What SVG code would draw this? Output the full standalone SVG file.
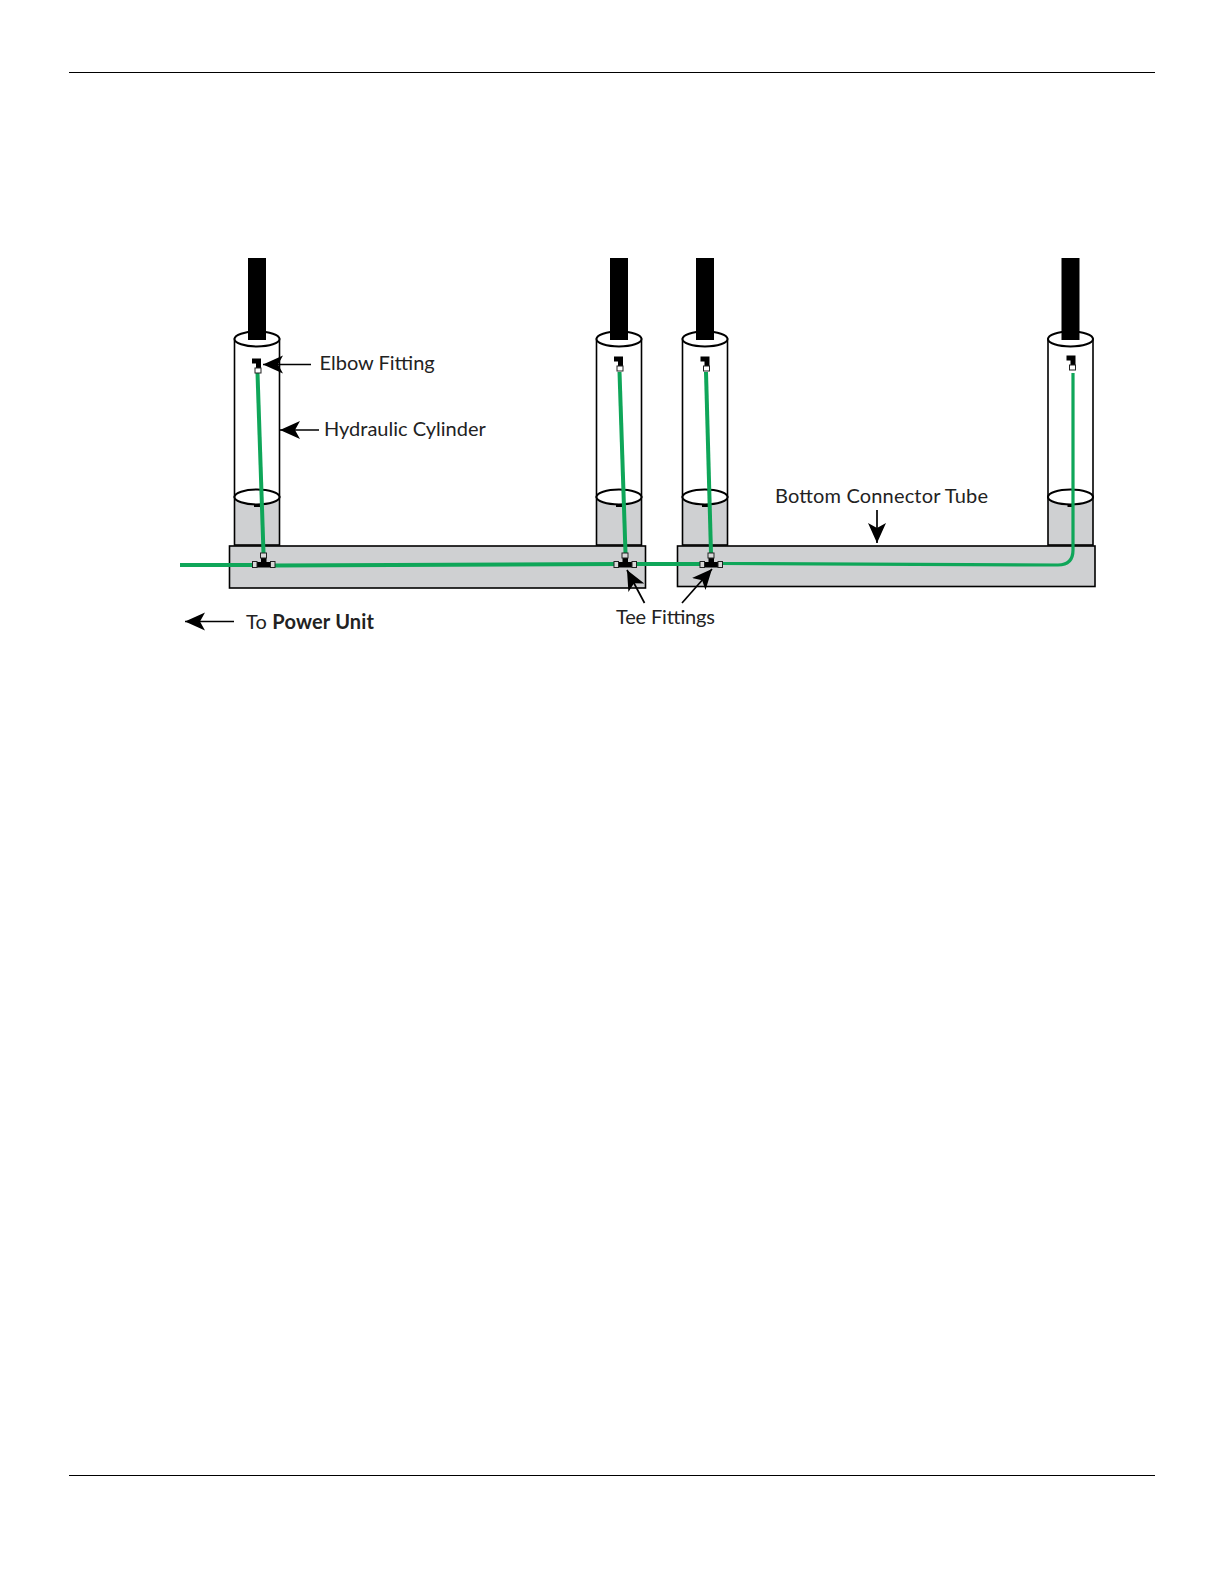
<svg xmlns="http://www.w3.org/2000/svg" width="1224" height="1584" viewBox="0 0 1224 1584">
<style>
.rule{stroke:#000;stroke-width:1;fill:none}
.wall{fill:none;stroke:#000;stroke-width:1.6}
.body{fill:#cfd0d2;stroke:#000;stroke-width:1.6}
.ring{fill:#fff;stroke:#000;stroke-width:2}
.hose{fill:none;stroke:#0fa659;stroke-width:4}
.lead{fill:none;stroke:#000;stroke-width:1.7;marker-end:url(#head)}
.ferrule{fill:#d8d8d8;stroke:#222;stroke-width:1}
text{font-family:"Lato","Open Sans","Liberation Sans",sans-serif;font-size:20px;fill:#222}
</style>
<defs>
<marker id="head" markerUnits="userSpaceOnUse" markerWidth="24" markerHeight="22" refX="20" refY="10" orient="auto">
<path d="M20,10 L0,1 L5,10 L0,19 Z" fill="#000"/>
</marker>
<g id="cyl">
<rect class="wall" x="0" y="0" width="45" height="158"/>
<rect class="body" x="0" y="158" width="45" height="48"/>
<ellipse class="ring" cx="22.5" cy="158" rx="22.5" ry="7.5"/>
<ellipse class="ring" cx="22.5" cy="0" rx="22.5" ry="7.5"/>
<rect x="19.5" y="165" width="6" height="3" fill="#000"/>
<rect x="13.5" y="-81" width="18" height="82" fill="#000"/>
</g>
<g id="elbow">
<path d="M0,0 H9 V10 H4 V5 H0 Z" fill="#000"/>
<rect x="3" y="9.5" width="6" height="5" fill="#fff" stroke="#222" stroke-width="1"/>
</g>
<g id="tee">
<rect x="4" y="9" width="14" height="5.5" fill="#000"/>
<rect x="8.5" y="4" width="5.5" height="6" fill="#000"/>
<rect class="ferrule" x="8" y="0" width="6" height="5"/>
<rect class="ferrule" x="0" y="8.5" width="4.5" height="6"/>
<rect class="ferrule" x="18" y="8.5" width="4.5" height="6"/>
</g>
</defs>
<g id="page-rules">
<line class="rule" x1="69" y1="72.5" x2="1155" y2="72.5"/>
<line class="rule" x1="69" y1="1475.5" x2="1155" y2="1475.5"/>
</g>
<g id="cylinder-1"><use href="#cyl" x="234.5" y="339"/></g>
<g id="cylinder-2"><use href="#cyl" x="596.5" y="339"/></g>
<g id="cylinder-3"><use href="#cyl" x="682.5" y="339"/></g>
<g id="cylinder-4"><use href="#cyl" x="1048" y="339"/></g>
<g id="tube-left"><rect class="body" x="229.5" y="546" width="416" height="42"/></g>
<g id="tube-right"><rect class="body" x="677.5" y="546" width="417.5" height="40.5"/></g>
<g id="connectors">
<path class="hose" d="M180,565 H258"/>
<path class="hose" d="M274,565.5 L620,564"/>
<path class="hose" d="M636,564 H702"/>
<path class="hose" d="M720,563.5 L1058,565 Q1073,565 1073,550 V373" style="stroke-width:3.2"/>
<path class="hose" d="M257.5,373 L263.5,553"/>
<path class="hose" d="M619.5,372 L625.5,553"/>
<path class="hose" d="M706,372 L711,553"/>
<path class="lead" d="M311,364.5 H263"/>
<path class="lead" d="M319,430 H280"/>
<path class="lead" d="M234,621.5 H185"/>
<path class="lead" d="M877,510 V543"/>
<path class="lead" d="M644.5,603 L627,570"/>
<path class="lead" d="M682,603 L712,569"/>
</g>
<g id="elbow-1"><use href="#elbow" x="252" y="358.5"/></g>
<g id="elbow-2"><use href="#elbow" x="614" y="356.5"/></g>
<g id="elbow-3"><use href="#elbow" x="700.5" y="356.5"/></g>
<g id="elbow-4"><use href="#elbow" x="1066.5" y="355.5"/></g>
<g id="tee-1"><use href="#tee" x="252.5" y="553"/></g>
<g id="tee-2"><use href="#tee" x="614" y="553"/></g>
<g id="tee-3"><use href="#tee" x="700" y="553"/></g>
<g id="labels">
<text x="319.5" y="370">Elbow Fitting</text>
<text x="324" y="436">Hydraulic Cylinder</text>
<text x="775" y="503" textLength="213">Bottom Connector Tube</text>
<text x="616" y="624" textLength="99">Tee Fittings</text>
<text x="246" y="628.5" textLength="128">To <tspan font-weight="700">Power Unit</tspan></text>
</g>
</svg>
